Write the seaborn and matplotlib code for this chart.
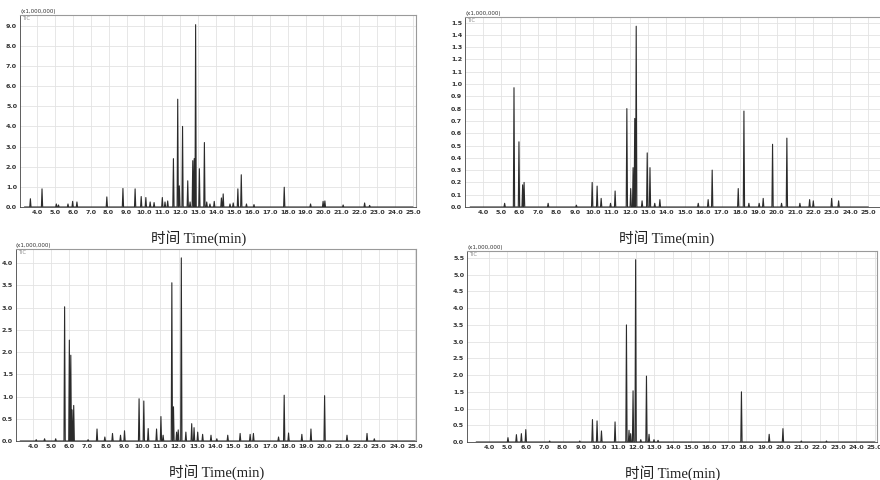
import numpy as np
import pandas as pd
import matplotlib
matplotlib.use("Agg")
import matplotlib.pyplot as plt
from matplotlib.ticker import MultipleLocator, FormatStrFormatter
import seaborn as sns

# Peaks: retention time (min), height (x1,000,000)
t_a = [3.63, 4.28, 5.08, 5.20, 5.73, 5.99, 6.23, 7.90, 8.80, 9.48, 9.82, 10.08, 10.32,
       10.54, 11.00, 11.15, 11.30, 11.62, 11.86, 11.95, 12.13, 12.42, 12.55, 12.70,
       12.78, 12.86, 13.07, 13.35, 13.48, 13.66, 13.90, 14.30, 14.40, 14.78, 14.96,
       15.22, 15.41, 15.70, 16.12, 17.81, 19.28, 19.98, 20.08, 21.10, 22.30, 22.58]
h_a = [0.41, 0.90, 0.15, 0.10, 0.15, 0.28, 0.25, 0.50, 0.92, 0.90, 0.52, 0.47, 0.25,
       0.22, 0.47, 0.25, 0.30, 2.40, 5.35, 1.05, 4.00, 1.30, 0.25, 2.30,
       2.40, 9.05, 1.90, 3.20, 0.25, 0.15, 0.28, 0.45, 0.65, 0.15, 0.20,
       0.90, 1.60, 0.15, 0.12, 0.98, 0.15, 0.28, 0.30, 0.10, 0.20, 0.08]

t_b = [5.18, 5.69, 5.96, 6.16, 6.24, 7.55, 9.09, 9.95, 10.22, 10.44, 10.95, 11.20,
       11.84, 12.05, 12.18, 12.27, 12.35, 12.67, 12.95, 13.10, 13.36, 13.64, 15.73,
       16.27, 16.49, 17.91, 18.22, 18.49, 19.05, 19.27, 19.78, 20.27, 20.56, 21.27,
       21.80, 22.00, 23.00, 23.38]
h_b = [0.03, 0.97, 0.53, 0.18, 0.20, 0.03, 0.015, 0.20, 0.17, 0.07, 0.03, 0.13,
       0.80, 0.15, 0.32, 0.72, 1.47, 0.05, 0.44, 0.32, 0.03, 0.06, 0.03,
       0.06, 0.30, 0.15, 0.78, 0.03, 0.03, 0.07, 0.51, 0.03, 0.56, 0.03,
       0.06, 0.05, 0.07, 0.05]

t_c = [4.18, 4.64, 5.25, 5.74, 6.00, 6.08, 6.15, 6.24, 7.03, 7.52, 7.95, 8.37, 8.81,
       9.03, 9.83, 10.09, 10.33, 10.79, 11.03, 11.15, 11.63, 11.72, 11.89, 11.98,
       12.15, 12.40, 12.72, 12.85, 13.05, 13.32, 13.78, 14.10, 14.70, 15.38, 15.93,
       16.11, 17.49, 17.80, 18.04, 18.77, 19.27, 20.02, 21.25, 22.35, 22.75]
h_c = [0.03, 0.05, 0.05, 3.02, 2.27, 1.93, 0.70, 0.80, 0.03, 0.27, 0.09, 0.17, 0.13,
       0.23, 0.95, 0.90, 0.28, 0.27, 0.55, 0.13, 3.56, 0.77, 0.20, 0.25,
       4.12, 0.20, 0.39, 0.30, 0.20, 0.15, 0.13, 0.05, 0.13, 0.17, 0.15,
       0.17, 0.09, 1.03, 0.18, 0.15, 0.27, 1.02, 0.13, 0.17, 0.05]

t_d = [5.03, 5.49, 5.76, 6.00, 7.30, 8.94, 9.63, 9.88, 10.12, 10.86, 11.48, 11.62,
       11.71, 11.84, 11.98, 12.26, 12.57, 12.71, 12.98, 13.20, 17.74, 19.25, 20.00,
       21.00, 22.37]
h_d = [0.13, 0.22, 0.25, 0.37, 0.03, 0.03, 0.67, 0.63, 0.33, 0.60, 3.50, 0.35,
       0.25, 1.53, 5.45, 0.07, 1.97, 0.23, 0.07, 0.05, 1.50, 0.23, 0.40,
       0.03, 0.03]

run_start, run_end = 3.3, 25.0
half_width = 0.035

# panel layout in pixels: left, top, right, bottom, xlim, ylim, ytick step
panels = [
    (t_a, h_a, (20, 15, 416, 207), (3.05, 25.17), 9.53, 1.0, 199),
    (t_b, h_b, (465, 17, 890, 207), (3.02, 26.18), 1.545, 0.1, 667),
    (t_c, h_c, (16, 249, 416, 441), (3.07, 25.04), 4.32, 0.5, 217),
    (t_d, h_d, (467, 251, 877, 442), (2.80, 25.12), 5.71, 0.5, 673),
]

sns.set_style("white")
plt.rcParams["font.family"] = ["Liberation Serif", "Noto Sans CJK SC", "DejaVu Sans"]

W, H = 880, 480
fig = plt.figure(figsize=(W / 100, H / 100), dpi=100)


def trace(times, heights):
    xs, ys = [run_start], [0.0]
    for t, h in sorted(zip(times, heights)):
        xs += [t - half_width, t, t + half_width]
        ys += [0.0, h, 0.0]
    xs.append(run_end)
    ys.append(0.0)
    return pd.DataFrame({"time": xs, "intensity": ys})


for times, heights, (l, t, r, b), xlim, ytop, ystep, xlab in panels:
    ax = fig.add_axes([l / W, 1 - b / H, (r - l) / W, (b - t) / H])
    df = trace(times, heights)
    sns.lineplot(data=df, x="time", y="intensity", estimator=None, sort=False,
                 color="#2b2b2b", linewidth=0.8, ax=ax)
    ax.set_xlim(*xlim)
    ax.set_ylim(0, ytop)
    ax.xaxis.set_major_locator(MultipleLocator(1.0))
    ax.xaxis.set_minor_locator(MultipleLocator(0.2))
    ax.yaxis.set_major_locator(MultipleLocator(ystep))
    ax.yaxis.set_minor_locator(MultipleLocator(ystep / 5))
    ax.xaxis.set_major_formatter(FormatStrFormatter("%.1f"))
    ax.yaxis.set_major_formatter(FormatStrFormatter("%.1f"))
    ax.set_xticks([v for v in np.arange(4.0, 25.5, 1.0)])
    ax.grid(True, which="major", color="#e3e3e3", linewidth=0.6)
    ax.tick_params(which="major", length=0, pad=2, labelsize=4.6, labelcolor="#333333")
    ax.tick_params(which="minor", direction="in", length=1.5, width=0.5, color="#555555")
    for lab in ax.get_xticklabels() + ax.get_yticklabels():
        lab.set_fontweight("bold")
        lab.set_family("DejaVu Sans")
    for side in ["top", "right"]:
        ax.spines[side].set_color("#9a9a9a")
        ax.spines[side].set_linewidth(0.8)
    for side in ["left", "bottom"]:
        ax.spines[side].set_color("#444444")
        ax.spines[side].set_linewidth(0.6)
    ax.set_xlabel("")
    ax.set_ylabel("")
    ax.text(0.0, 1.005, "(x1,000,000)", transform=ax.transAxes, fontsize=4,
            family="DejaVu Sans", color="#333333", ha="left", va="bottom")
    ax.text(0.004, 0.995, "TIC", transform=ax.transAxes, fontsize=3.6,
            family="DejaVu Sans", color="#888888", ha="left", va="top")
    fig.text(xlab / W, 1 - (b + 31) / H, "时间 Time(min)", fontsize=10.5,
             ha="center", va="center", color="#222222")

fig.savefig("out.png", dpi=100, facecolor="white")
